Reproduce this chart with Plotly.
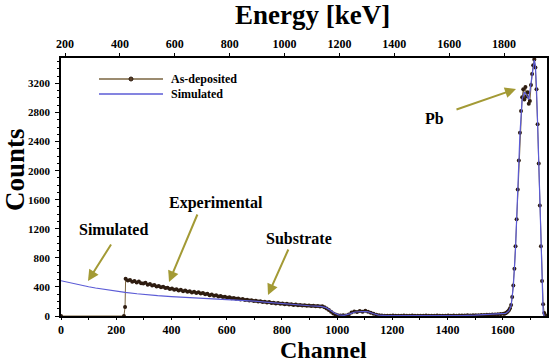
import plotly.graph_objects as go

# ---------------- data ----------------
# As-deposited (experimental) spectrum
exp_ch_lead = [0, 228, 232]
exp_ct_lead = [0, 0, 125]

exp_ch_a = list(range(234, 1003, 8))
exp_ct_a = [512, 488, 497, 470, 482, 461, 474, 452, 446, 459,
            431, 440, 418, 427, 405, 412, 396, 404, 384, 390,
            372, 380, 361, 368, 352, 360, 341, 350, 333, 342,
            325, 334, 318, 326, 309, 316, 298, 305, 287, 295,
            280, 284, 268, 276, 262, 266, 251, 258, 244, 248,
            236, 240, 228, 233, 219, 224, 212, 216, 205, 209,
            198, 203, 192, 196, 185, 191, 180, 184, 173, 178,
            168, 172, 162, 167, 157, 161, 152, 157, 147, 152,
            143, 148, 140, 145, 137, 142, 134, 139, 131, 135,
            120, 104, 82, 58, 36, 20, 12]

exp_ch_b = list(range(1012, 1603, 10))
exp_ct_b = [8, 10, 6, 22, 48, 62, 55, 68, 60, 72, 58, 44, 30, 18, 10, 6, 4,
            5, 3, 6, 4, 2, 5, 7, 3, 4, 6, 2, 5, 3, 4, 6, 5, 3, 2, 6, 4, 5, 3, 7, 4, 6, 5, 8, 6, 7, 9, 8,
            10, 12, 11, 14, 15, 18, 17, 20, 22, 24, 26, 30]

exp_ch_c = list(range(1606, 1755, 4))
exp_ct_c = [32, 38, 48, 62, 80, 105, 150, 260, 420, 650,
            960, 1330, 1740, 2140, 2520, 2820, 3010, 3120, 2980, 3150,
            3020, 3080, 2920, 2960, 3180, 3330, 3450, 3530, 3420, 3120,
            2640, 2100, 1520, 960, 480, 160, 40, 10]

# Simulated spectrum
sim_ch = [0, 25, 50, 75, 100, 125, 150, 175, 200, 232, 275, 300, 350, 400, 450, 500,
          550, 600, 650, 700, 750, 800, 850, 900, 940, 960, 975, 990, 1005, 1025,
          1045, 1065, 1090, 1110, 1130, 1150, 1180, 1250, 1350, 1450, 1500, 1550,
          1590, 1610, 1622, 1630, 1638, 1646, 1654, 1662, 1670, 1678, 1686, 1694,
          1702, 1710, 1714, 1718, 1722, 1728, 1734, 1740, 1746, 1750]
sim_ct = [485, 462, 441, 421, 402, 385, 369, 354, 340, 325, 306, 296, 280, 267, 256, 247,
          240, 232, 222, 206, 188, 170, 154, 141, 133, 115, 80, 40, 15, 10,
          30, 55, 62, 60, 35, 12, 4, 2, 3, 6, 12, 20,
          25, 35, 70, 140, 400, 930, 1720, 2500, 2980, 3080, 3040, 2980,
          3200, 3440, 3520, 3440, 3140, 2400, 1500, 650, 50, 0]

x_ticks = [0, 200, 400, 600, 800, 1000, 1200, 1400, 1600]
y_ticks = [0, 400, 800, 1200, 1600, 2000, 2400, 2800, 3200]
e_ticks = [200, 400, 600, 800, 1000, 1200, 1400, 1600, 1800]

exp_ch = exp_ch_lead + exp_ch_a + exp_ch_b + exp_ch_c
exp_ct = exp_ct_lead + exp_ct_a + exp_ct_b + exp_ct_c
assert len(exp_ch) == len(exp_ct)
assert len(sim_ch) == len(sim_ct)

# ---------------- layout geometry ----------------
W, H = 550, 363
L, R, T, B = 61, 547, 58, 316


def pxx(xp):
    return (xp - L) / (R - L)


def pxy(yp):
    return (B - yp) / (B - T)


FONT = "Liberation Serif"
ARROW = "#a39a35"
EXP_LINE = "#7a6440"
EXP_MARK = "#2e1c10"
SIM = "#5b5bd6"

fig = go.Figure()
fig.add_trace(go.Scatter(x=exp_ch, y=exp_ct, mode="lines+markers", name="As-deposited",
                         line=dict(color=EXP_LINE, width=1),
                         marker=dict(color=EXP_MARK, size=4), showlegend=False))
fig.add_trace(go.Scatter(x=sim_ch, y=sim_ct, mode="lines", name="Simulated",
                         line=dict(color=SIM, width=1.2), showlegend=False))
# invisible trace to carry the top energy axis
fig.add_trace(go.Scatter(x=[e_ticks[0], e_ticks[-1]], y=[0, 0], xaxis="x2", mode="lines",
                         line=dict(width=0), opacity=0, showlegend=False, hoverinfo="skip"))

tickfont = dict(family=FONT, size=12, color="black", weight="bold")

fig.update_layout(
    width=W, height=H,
    margin=dict(l=L, r=W - R, t=T, b=H - B, autoexpand=False),
    paper_bgcolor="white", plot_bgcolor="white",
    showlegend=False,
    xaxis=dict(range=[0, 1760], tickvals=x_ticks, ticks="outside", ticklen=2,
               tickcolor="black", showline=True, linecolor="black", linewidth=1.5,
               showgrid=False, zeroline=False, tickfont=tickfont, ticklabelstandoff=0,
               minor=dict(dtick=100, tick0=0, ticks="outside", ticklen=2, tickcolor="black")),
    xaxis2=dict(range=[185.4, 1956.7], overlaying="x", side="top", anchor="y",
                tickvals=e_ticks, ticks="outside", ticklen=3, tickcolor="black",
                showline=True, linecolor="black", linewidth=1.5, showgrid=False,
                zeroline=False, tickfont=tickfont, ticklabelstandoff=0),
    yaxis=dict(range=[0, 3550], tickvals=y_ticks, ticks="outside", ticklen=4,
               tickcolor="black", showline=True, mirror=True, linecolor="black",
               linewidth=1.5, showgrid=False, zeroline=False,
               tickfont=dict(family=FONT, size=11, color="black", weight="bold"),
               ticklabelstandoff=3,
               minor=dict(dtick=100, tick0=0, ticks="outside", ticklen=2, tickcolor="black")),
)

ann = []
# axis titles
ann.append(dict(text="Energy [keV]", x=pxx(312), y=pxy(15), xref="paper", yref="paper",
                showarrow=False, xanchor="center", yanchor="middle",
                font=dict(family=FONT, size=27, color="black", weight="bold")))
ann.append(dict(text="Channel", x=pxx(323), y=pxy(364), xref="paper", yref="paper",
                showarrow=False, xanchor="center", yanchor="bottom", borderpad=0,
                font=dict(family=FONT, size=24, color="black", weight="bold")))
ann.append(dict(text="Counts", x=pxx(15), y=pxy(170), xref="paper", yref="paper",
                showarrow=False, xanchor="center", yanchor="middle", textangle=-90,
                font=dict(family=FONT, size=27, color="black", weight="bold")))

# labels with arrows
labels = [("Simulated", 113, 229, 112, 243, 88, 281),
          ("Experimental", 216, 203, 198, 213, 169, 282),
          ("Substrate", 299, 238, 289, 248, 268, 295),
          ("Pb", 434, 118, 455, 110, 516, 89)]
for txt, tx, ty, ax0, ay0, hx, hy in labels:
    ann.append(dict(text=txt, x=pxx(tx), y=pxy(ty), xref="paper", yref="paper",
                    showarrow=False, xanchor="center", yanchor="middle",
                    font=dict(family=FONT, size=16, color="black", weight="bold")))
    ann.append(dict(text="", x=pxx(hx), y=pxy(hy), xref="paper", yref="paper",
                    showarrow=True, ax=ax0 - hx, ay=ay0 - hy, arrowhead=2, arrowsize=1.1,
                    arrowwidth=2, arrowcolor=ARROW, standoff=0, startstandoff=0))

# custom legend
ann.append(dict(text="As-deposited", x=pxx(169), y=pxy(79), xref="paper", yref="paper",
                showarrow=False, xanchor="left", yanchor="middle",
                font=dict(family=FONT, size=12, color="black", weight="bold")))
ann.append(dict(text="Simulated", x=pxx(169), y=pxy(94), xref="paper", yref="paper",
                showarrow=False, xanchor="left", yanchor="middle",
                font=dict(family=FONT, size=12, color="black", weight="bold")))
fig.update_layout(annotations=ann)

shapes = [
    dict(type="line", xref="paper", yref="paper", x0=pxx(99), x1=pxx(163),
         y0=pxy(79), y1=pxy(79), line=dict(color=EXP_LINE, width=1.5)),
    dict(type="circle", xref="paper", yref="paper", x0=pxx(129), x1=pxx(133),
         y0=pxy(81), y1=pxy(77), fillcolor="#5a4028", line=dict(color=EXP_MARK, width=1)),
    dict(type="line", xref="paper", yref="paper", x0=pxx(99), x1=pxx(163),
         y0=pxy(94), y1=pxy(94), line=dict(color=SIM, width=1.5)),
]
fig.update_layout(shapes=shapes)

fig.write_html("out.html", config={"displayModeBar": False},
               post_script="document.body.style.margin='0px';")
